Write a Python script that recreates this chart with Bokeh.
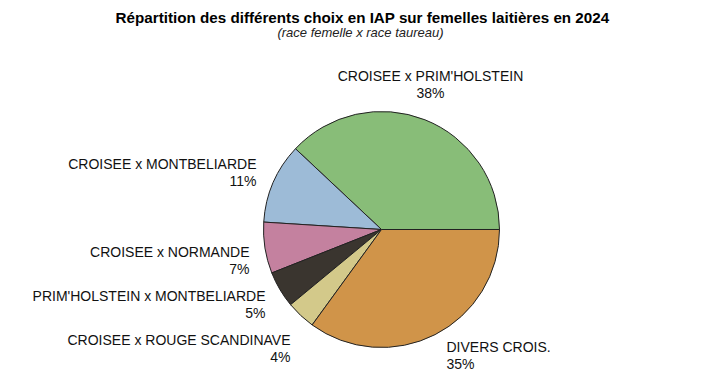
import numpy as np
from bokeh.plotting import figure
from bokeh.models import Range1d, ColumnDataSource
from bokeh.core.properties import value
from bokeh.embed import file_html
from bokeh.resources import INLINE

# ---- data ----
categories = ["CROISEE x PRIM'HOLSTEIN", "CROISEE x MONTBELIARDE", "CROISEE x NORMANDE",
              "PRIM'HOLSTEIN x MONTBELIARDE", "CROISEE x ROUGE SCANDINAVE", "DIVERS CROIS."]
values = [38, 11, 7, 5, 4, 35]
colors = ["#88bd78", "#9dbbd7", "#c4819f", "#3a352f", "#d3c98a", "#d09449"]

title = "Répartition des différents choix en IAP sur femelles laitières en 2024"
subtitle = "(race femelle x race taureau)"

# ---- layout (screen pixel coords) ----
FW, FH = 694, 373
def Y(y):
    return FH - y

cx, cy, r = 381, 229, 118
# label block anchors (screen px) and alignment
label_x = [430, 256, 249, 265, 290, 446]
label_y = [84, 172, 260, 304, 348, 355]
label_align = ["center", "right", "right", "right", "right", "left"]

p = figure(width=FW, height=FH, output_backend="svg", toolbar_location=None,
           x_range=Range1d(0, FW), y_range=Range1d(0, FH),
           min_border=0, outline_line_color=None)
p.axis.visible = False
p.grid.visible = False
p.background_fill_color = "white"

vals = np.array(values, dtype=float)
frac = vals / vals.sum()
ends = np.cumsum(frac) * 2 * np.pi
starts = np.concatenate([[0.0], ends[:-1]])

src = ColumnDataSource(dict(start=starts, end=ends, color=colors))
p.wedge(x=cx, y=Y(cy), radius=r, start_angle="start", end_angle="end",
        fill_color="color", line_color="#222222", line_width=1, source=src)

font = value("Liberation Sans")
lsrc = ColumnDataSource(dict(
    x=label_x,
    y1=[Y(y - 8.5) for y in label_y],
    y2=[Y(y + 8.5) for y in label_y],
    name=categories,
    pct=[f"{v}%" for v in values],
    align=label_align,
))
p.text(x="x", y="y1", text="name", text_align="align", text_baseline="middle",
       text_font=font, text_font_size="14px", text_color="#111111", source=lsrc)
p.text(x="x", y="y2", text="pct", text_align="align", text_baseline="middle",
       text_font=font, text_font_size="14px", text_color="#111111", source=lsrc)

p.text(x=[362], y=[Y(17)], text=[title], text_align="center", text_baseline="middle",
       text_font=font, text_font_size="15.2px", text_font_style="bold", text_color="#000000")
p.text(x=[360], y=[Y(32)], text=[subtitle], text_align="center", text_baseline="middle",
       text_font=font, text_font_size="13px", text_font_style="italic", text_color="#222222")

open("out.html", "w").write(file_html(p, INLINE))
